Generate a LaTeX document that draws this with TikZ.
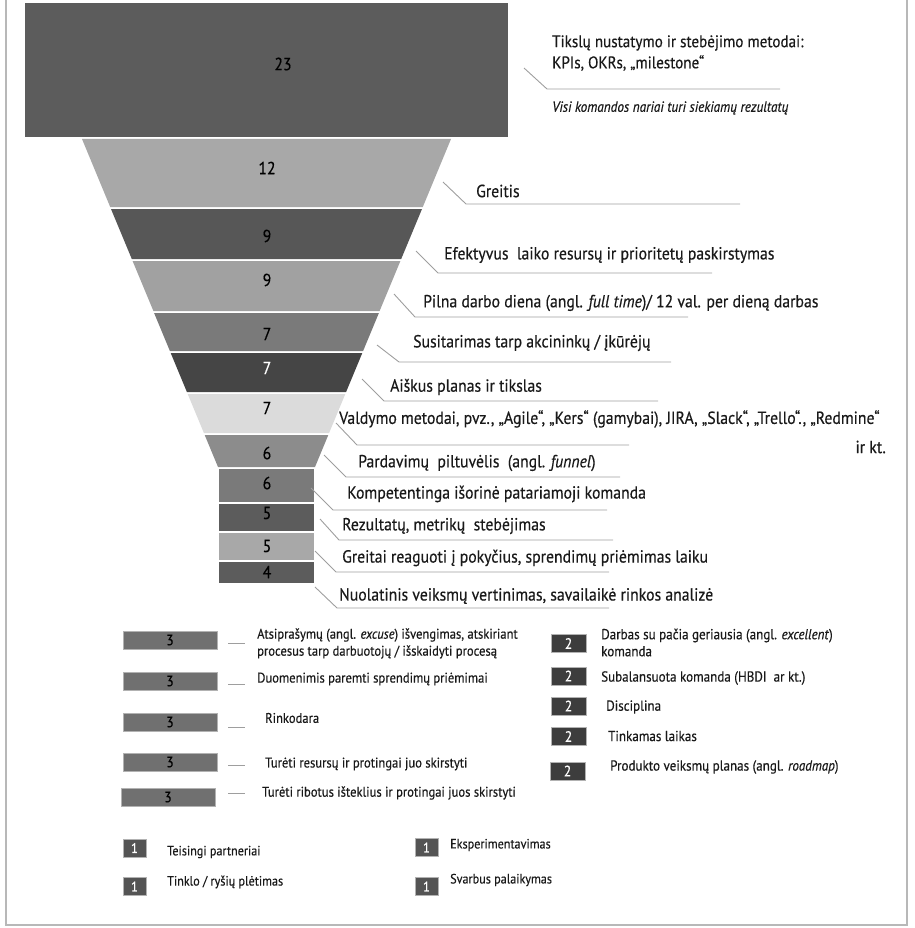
\documentclass[tikz,border=0pt]{standalone}
\usepackage{fontspec}
\setmainfont{PT Sans}
\newfontfamily\condf{PT Sans}[FakeStretch=0.9, FakeBold=0.4]
\newfontfamily\legf{PT Sans}[FakeStretch=0.9, FakeBold=0.4]
\definecolor{gA}{gray}{0.36}
\definecolor{gB}{gray}{0.66}
\definecolor{gC}{gray}{0.34}
\definecolor{gD}{gray}{0.63}
\definecolor{gE}{gray}{0.48}
\definecolor{gF}{gray}{0.27}
\definecolor{gG}{gray}{0.86}
\definecolor{gH}{gray}{0.55}
\definecolor{gI}{gray}{0.48}
\definecolor{gJ}{gray}{0.36}
\definecolor{gK}{gray}{0.66}
\definecolor{gL}{gray}{0.36}
\definecolor{leadc}{gray}{0.62}
\definecolor{frame}{gray}{0.72}
\definecolor{boxmid}{gray}{0.44}
\definecolor{boxdark}{gray}{0.24}
\definecolor{boxone}{gray}{0.33}
\tikzset{
  num/.style={font=\condf\fontsize{17.5}{19}\selectfont, inner sep=0pt, text=black},
  lbl/.style={anchor=west, inner sep=0pt, text=black!90, font=\condf\fontsize{17.5}{20}\selectfont},
  titlelbl/.style={lbl, font=\condf\fontsize{16.8}{20}\selectfont},
  lead/.style={draw=leadc, line width=0.9pt},
  legtxt/.style={anchor=west, inner sep=0pt, align=left, text=black!90, font=\legf\fontsize{14}{17}\selectfont},
  legtwo/.style={legtxt, font=\legf\fontsize{14.5}{17}\selectfont},
  legone/.style={legtxt, font=\legf\fontsize{13.5}{16}\selectfont},
  boxthree/.style={fill=boxmid, draw=gray!60, line width=0.6pt, minimum width=94pt, minimum height=18pt, inner sep=0pt, font=\legf\fontsize{15}{17}\selectfont},
  boxtwo/.style={fill=boxdark, draw=gray!60, line width=0.6pt, minimum width=35pt, minimum height=18pt, inner sep=0pt, text=white, font=\legf\fontsize{15}{17}\selectfont},
  boxone/.style={fill=boxone, draw=gray!60, line width=0.6pt, minimum width=23pt, minimum height=18pt, inner sep=0pt, text=white, font=\legf\fontsize{14}{17}\selectfont},
  dashmark/.style={draw=leadc, line width=0.9pt}
}
\begin{document}
\begin{tikzpicture}[x=1pt, y=-1pt]
\useasboundingbox (0,0) rectangle (914,928);
% outer frame
\draw[frame, line width=1.4pt] (6,0) -- (6,925) -- (907,925) -- (907,0);

% funnel layers
\fill[gA] (25,3) rectangle (508,137);
\node[num] (n23) at (283,64) {23};
\fill[gB] (82,139) -- (451,139) -- (422.8,207) -- (110.2,207) -- cycle;
\node[num] (n12) at (267,168) {12};
\fill[gC] (111,209) -- (422,209) -- (401.2,259) -- (131.8,259) -- cycle;
\node[num] (n9a) at (267,236) {9};
\fill[gD] (132.6,261) -- (400.4,261) -- (379.6,311) -- (153.4,311) -- cycle;
\node[num] (n9b) at (267,280) {9};
\fill[gE] (154.1,313) -- (378.9,313) -- (363.1,351) -- (169.9,351) -- cycle;
\node[num] (n7a) at (267,334) {7};
\fill[gF] (170.7,353) -- (362.3,353) -- (346.1,392) -- (186.9,392) -- cycle;
\node[num, text=white] (n7b) at (267,368) {7};
\fill[gG] (187.7,394) -- (345.3,394) -- (329.1,433) -- (203.9,433) -- cycle;
\node[num] (n7c) at (267,408) {7};
\fill[gH] (204.7,435) -- (328.3,435) -- (315,467) -- (218,467) -- cycle;
\node[num] (n6a) at (267,453) {6};
\fill[gI] (219,469) rectangle (314,502);
\node[num] (n6b) at (267,483) {6};
\fill[gJ] (219,504) rectangle (314,531);
\node[num] (n5a) at (267,513) {5};
\fill[gK] (219,533) rectangle (314,560);
\node[num] (n5b) at (267,546) {5};
\fill[gL] (219,562) rectangle (314,583);
\node[num] (n4) at (267,572) {4};

% labels
\node[titlelbl] (tiksl) at (552,43) {Tikslų nustatymo ir stebėjimo metodai:};
\node[titlelbl] (kpi) at (552,63) {KPIs, OKRs, „milestone“};
\node[lbl, font=\condf\itshape\fontsize{14.7}{17}\selectfont] (visi) at (552,108) {Visi komandos nariai turi siekiamų rezultatų};
\node[lbl] (greitis) at (476,191) {Greitis};
\node[lbl] (efekt) at (444,255) {Efektyvus\ \ laiko resursų ir prioritetų paskirstymas};
\node[lbl] (pilna) at (423,303) {Pilna darbo diena (angl. \textit{full time})/ 12 val. per dieną darbas};
\node[lbl] (susit) at (413,343) {Susitarimas tarp akcininkų / įkūrėjų};
\node[lbl] (aisk) at (390,387) {Aiškus planas ir tikslas};
\node[lbl] (valdA) at (339,419) {Valdymo metodai, pvz., „Agile“, „Kers“ (gamybai), JIRA, „Slack“, „Trello“., „Redmine“};
\node[lbl, anchor=east] (valdB) at (886,447) {ir kt.};
\node[lbl] (pard) at (358,463) {Pardavimų\ \ piltuvėlis\ \ (angl. \textit{funnel})};
\node[lbl] (komp) at (347,494) {Kompetentinga išorinė patariamoji komanda};
\node[lbl] (rez) at (342,526) {Rezultatų, metrikų\ \ stebėjimas};
\node[lbl] (greitai) at (342,558) {Greitai reaguoti į pokyčius, sprendimų priėmimas laiku};
\node[lbl] (nuol) at (339,596) {Nuolatinis veiksmų vertinimas, savailaikė rinkos analizė};

% leader lines
\coordinate (t0) at (524,68);  \coordinate (t1) at (547,89);  \coordinate (t2) at (780,89);
\coordinate (g0) at (443,182); \coordinate (g1) at (466,204); \coordinate (g2) at (740,204);
\coordinate (e0) at (416,251); \coordinate (e1) at (438,273); \coordinate (e2) at (712,273);
\coordinate (p0) at (394,294); \coordinate (p1) at (415,317); \coordinate (p2) at (688,317);
\coordinate (s0) at (377,345); \coordinate (s1) at (399,362); \coordinate (s2) at (671,362);
\coordinate (a0) at (362,379); \coordinate (a1) at (384,401); \coordinate (a2) at (658,401);
\coordinate (v0) at (336,423); \coordinate (v1) at (357,445); \coordinate (v2) at (629,445);
\coordinate (d0) at (324,455); \coordinate (d1) at (346,477); \coordinate (d2) at (620,477);
\coordinate (k0) at (311,488); \coordinate (k1) at (333,510); \coordinate (k2) at (607,510);
\coordinate (r0) at (320,519); \coordinate (r1) at (339,540); \coordinate (r2) at (613,540);
\coordinate (q0) at (315,551); \coordinate (q1) at (336,572); \coordinate (q2) at (609,572);
\coordinate (o0) at (315,587); \coordinate (o1) at (337,608); \coordinate (o2) at (609,608);
\foreach \c in {t,g,e,p,s,a,v,d,k,r,q,o}
  \draw[lead] (\c0) -- (\c1) -- (\c2);

% legend: score 3
\node[boxthree] (b3a) at (170,640) {3};
\node[boxthree] (b3b) at (170,681) {3};
\node[boxthree] (b3c) at (170,722) {3};
\node[boxthree] (b3d) at (170,762) {3};
\node[boxthree] (b3e) at (168,797) {3};
\node[legtxt] (l3a) at (257,643.5) {Atsiprašymų (angl. \textit{excuse}) išvengimas, atskiriant\\procesus tarp darbuotojų / išskaidyti procesą};
\node[legtxt] (l3b) at (257,679) {Duomenimis paremti sprendimų priėmimai};
\node[legtxt] (l3c) at (265,718) {Rinkodara};
\node[legtxt] (l3d) at (265,764) {Turėti resursų ir protingai juo skirstyti};
\node[legtxt] (l3e) at (262,793) {Turėti ribotus išteklius ir protingai juos skirstyti};
\draw[dashmark] (228,643) -- (245,643);
\draw[dashmark] (228,684) -- (245,684);
\draw[dashmark] (228,727) -- (245,727);
\draw[dashmark] (228,765) -- (245,765);
\draw[dashmark] (228,793) -- (245,793);

% legend: score 2
\node[boxtwo] (b2a) at (568.5,643.5) {2};
\node[boxtwo] (b2b) at (568.5,676) {2};
\node[boxtwo] (b2c) at (568.5,706) {2};
\node[boxtwo] (b2d) at (568.5,736.5) {2};
\node[boxtwo] (b2e) at (567.5,771) {2};
\node[legtwo] (l2a) at (601,642.5) {Darbas su pačia geriausia (angl. \textit{excellent})\\komanda};
\node[legtwo] (l2b) at (601,678) {Subalansuota komanda (HBDI\ \ ar kt.)};
\node[legtwo] (l2c) at (606,707) {Disciplina};
\node[legtwo] (l2d) at (608,736) {Tinkamas laikas};
\node[legtwo] (l2e) at (610,767) {Produkto veiksmų planas (angl. \textit{roadmap})};

% legend: score 1
\node[boxone] (b1a) at (134.5,848) {1};
\node[boxone] (b1b) at (134.5,886.5) {1};
\node[boxone] (b1c) at (426.5,847.5) {1};
\node[boxone] (b1d) at (426.5,886.5) {1};
\node[legone] (l1a) at (167,852) {Teisingi partneriai};
\node[legone] (l1b) at (167,882) {Tinklo / ryšių plėtimas};
\node[legone] (l1c) at (450,845) {Eksperimentavimas};
\node[legone] (l1d) at (450,880) {Svarbus palaikymas};
\end{tikzpicture}
\end{document}
